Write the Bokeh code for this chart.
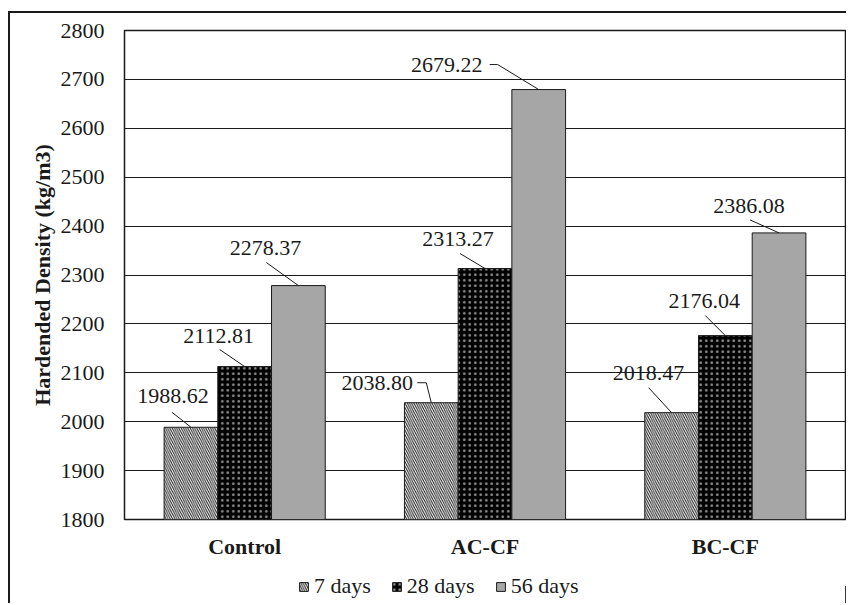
from bokeh.plotting import figure
from bokeh.layouts import column
from bokeh.models import Range1d, FixedTicker, Legend, LegendItem
from bokeh.core.properties import value
from bokeh.embed import file_html
from bokeh.resources import INLINE

# ---- data ----
mixes = ["Control", "AC-CF", "BC-CF"]
series = ["7 days", "28 days", "56 days"]
density_7 = [1988.62, 2038.80, 2018.47]
density_28 = [2112.81, 2313.27, 2176.04]
density_56 = [2278.37, 2679.22, 2386.08]
y_ticks = [1800, 1900, 2000, 2100, 2200, 2300, 2400, 2500, 2600, 2700, 2800]

FONT = "'Liberation Serif', 'Times New Roman', serif"
INK = "#1a1a1a"

# ---- geometry ----
Y_MIN, Y_MAX = 1800, 2800
FRAME_W, FRAME_H = 721, 489
BAR_W = 0.2235
px_x = FRAME_W / len(mixes)          # pixels per x unit
px_y = FRAME_H / (Y_MAX - Y_MIN)     # pixels per y unit
FIG_W = 838

p = figure(width=FIG_W, height=558,
           x_range=Range1d(0, len(mixes)), y_range=Range1d(Y_MIN, Y_MAX),
           output_backend="svg", toolbar_location=None,
           min_border_left=114, min_border_right=3,
           min_border_top=17, min_border_bottom=52)
p.margin = (11, 0, 0, 8)
p.styles = {"border-style": "solid none none solid",
            "border-width": "2px",
            "border-color": INK}

p.outline_line_color = INK
p.outline_line_width = 1.5
p.background_fill_color = "white"
p.border_fill_color = "white"

p.xgrid.grid_line_color = None
p.ygrid.grid_line_color = INK
p.ygrid.grid_line_width = 1
p.ygrid.ticker = FixedTicker(ticks=y_ticks)

# y axis
p.yaxis.ticker = FixedTicker(ticks=y_ticks)
p.yaxis.axis_line_color = None
p.yaxis.major_tick_line_color = None
p.yaxis.minor_tick_line_color = None
p.yaxis.major_tick_out = 0
p.yaxis.major_label_standoff = 20
p.yaxis.major_label_text_font = FONT
p.yaxis.major_label_text_font_size = "22px"
p.yaxis.major_label_text_color = INK
p.yaxis.axis_label = "Hardended Density (kg/m3)"
p.yaxis.axis_label_text_font = FONT
p.yaxis.axis_label_text_font_size = "22px"
p.yaxis.axis_label_text_font_style = "bold"
p.yaxis.axis_label_text_color = INK
p.yaxis.axis_label_standoff = 3

# x axis with category names
centers = [i + 0.5 for i in range(len(mixes))]
p.xaxis.ticker = FixedTicker(ticks=centers)
p.xaxis.major_label_overrides = {c: m for c, m in zip(centers, mixes)}
p.xaxis.axis_line_color = None
p.xaxis.major_tick_line_color = None
p.xaxis.minor_tick_line_color = None
p.xaxis.major_tick_out = 0
p.xaxis.major_label_standoff = 14
p.xaxis.major_label_text_font = FONT
p.xaxis.major_label_text_font_size = "22px"
p.xaxis.major_label_text_font_style = "bold"
p.xaxis.major_label_text_color = INK

# bars
styles = [
    dict(fill_color="white", hatch_pattern="\\", hatch_color=INK, hatch_scale=4.5, hatch_weight=1),
    dict(fill_color="black", hatch_pattern=".", hatch_color="#b0b0b0", hatch_alpha=0.8,
         hatch_scale=5.5, hatch_weight=0.2),
    dict(fill_color="#a6a6a6"),
]
all_values = [density_7, density_28, density_56]
for k, (vals, st) in enumerate(zip(all_values, styles)):
    xs = [c + (k - 1) * BAR_W for c in centers]
    p.vbar(x=xs, top=vals, bottom=Y_MIN, width=BAR_W,
           line_color=INK, line_width=1, **st)

# value labels with leader lines; offsets in pixels from the bar top (down = positive)
label_offsets = [
    [(-18, -31), (-54, -20), (-23, -40)],
    [(-26, -31), (-27, -30), (-21, -35)],
    [(-33, -38), (-92, -25), (-30, -27)],
]
leader_paths = [
    [[(-19, -15), (0, 0)], [(-14, -20), (-5, -20), (0, 0)], [(-23, -25), (0, 0)]],
    [[(-25, -17), (0, 0)], [(-25, -15), (0, 0)], [(-20, -20), (0, 0)]],
    [[(-32, -23), (0, 0)], [(-49, -25), (-41, -25), (0, 0)], [(-29, -13), (0, 0)]],
]

lx, ly, ltxt = [], [], []
mx, my = [], []
for k, vals in enumerate(all_values):
    for i, v in enumerate(vals):
        bx = centers[i] + (k - 1) * BAR_W
        dx, dy = label_offsets[k][i]
        lx.append(bx + dx / px_x)
        ly.append(v - dy / px_y)
        ltxt.append(f"{v:.2f}")
        path = leader_paths[k][i]
        mx.append([bx + ox / px_x for ox, oy in path])
        my.append([v - oy / px_y for ox, oy in path])

p.multi_line(xs=mx, ys=my, line_color=INK, line_width=1)
p.text(x=lx, y=ly, text=ltxt, text_font=value(FONT), text_font_size="22px",
       text_color=INK, text_align="center", text_baseline="middle")

# legend strip underneath the chart (its frame lines up with the chart frame)
leg = figure(width=FIG_W, height=34, x_range=Range1d(0, 1), y_range=Range1d(0, 1),
             output_backend="svg", toolbar_location=None,
             x_axis_type=None, y_axis_type=None,
             min_border=0, min_border_left=0, min_border_right=0,
             min_border_top=0, min_border_bottom=0)
leg.margin = (0, 0, 0, 8)
leg.styles = {"border-style": "none none none solid",
              "border-width": "2px",
              "border-color": INK}
leg.outline_line_color = None
leg.xgrid.grid_line_color = None
leg.ygrid.grid_line_color = None
leg.background_fill_color = "white"
leg.border_fill_color = "white"

# swatch renderers sit outside the visible range; only their legend glyphs show
swatches = [leg.vbar(x=[5], top=[0.5], bottom=0, width=0.1,
                     line_color=INK, line_width=1, **st)
            for st in styles]
legend = Legend(items=[LegendItem(label=s, renderers=[r]) for s, r in zip(series, swatches)],
                orientation="horizontal", location=(174, 4),
                glyph_width=11, glyph_height=11, label_standoff=5, spacing=20,
                padding=0, margin=0, border_line_color=None,
                background_fill_alpha=0,
                label_text_font=FONT, label_text_font_size="22px",
                label_text_color=INK)
leg.add_layout(legend, "center")

page = column(p, leg, spacing=0)
open("out.html", "w").write(file_html(page, INLINE))
